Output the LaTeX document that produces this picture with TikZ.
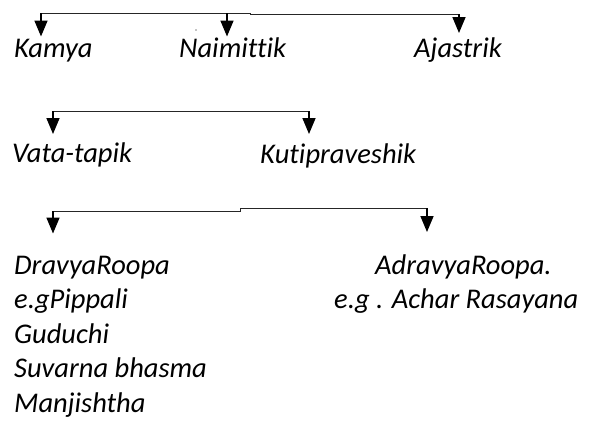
\documentclass[tikz,border=0pt]{standalone}
\usepackage{fontspec}
\setmainfont{Carlito}[Ligatures=NoCommon]
\usetikzlibrary{arrows.meta,calc}
\begin{document}
\begin{tikzpicture}[x=1pt,y=-1pt,
  lbl/.style={anchor=base west,inner sep=0pt,font=\fontsize{28.5}{34.5}\selectfont\itshape},
  bar/.style={line width=1pt,black!85},
  arr/.style={line width=1.6pt,-{Triangle[width=13pt,length=16pt]}}]
\useasboundingbox (0,0) rectangle (606,423);
% row 1
\node[lbl] (kamya) at (14,57) {Kamya};
\node[lbl] (naim) at (179,57) {Naimittik};
\node[lbl] (ajas) at (414,57) {Ajastrik};
\coordinate (a1) at (41,13);
\coordinate (a2) at (227,13);
\coordinate (a3) at (459,14);
\draw[bar] (a1) -- (250,13) -- (250,14) -- (a3);
\draw[arr] (a1) -- ($(a1 |- kamya.north)+(0,-2)$);
\draw[arr] (a2) -- ($(a2 |- kamya.north)+(0,-2)$);
\draw[arr] (a3) -- ($(a3 |- ajas.north)+(0,-4)$);
\fill (196,30) circle (0.7);
% row 2
\node[lbl] (vata) at (12,162) {Vata-tapik};
\node[lbl] (kuti) at (260,163) {Kutipraveshik};
\coordinate (b1) at (53,111);
\coordinate (b2) at (309,111);
\draw[bar] (b1) -- (b2);
\draw[arr] (b1) -- ($(b1 |- vata.north)+(0,-8)$);
\draw[arr] (b2) -- ($(b2 |- vata.north)+(0,-8)$);
% row 3
\node[lbl] (dravya) at (14,274) {DravyaRoopa};
\node[lbl] (pipp) at (14,308) {e.gPippali};
\node[lbl] (gudu) at (14,343) {Guduchi};
\node[lbl] (suva) at (14,377) {Suvarna bhasma};
\node[lbl] (manj) at (14,412) {Manjishtha};
\node[lbl] (adravya) at (375,274) {AdravyaRoopa.};
\node[lbl] (eg) at (334,308) {e.g . Achar Rasayana};
\coordinate (c1) at (53,211);
\coordinate (c2) at (427,208);
\draw[bar] (c1) -- (240,211) -- (240,208) -- (c2);
\draw[arr] (c1) -- ($(c1 |- dravya.north)+(0,-22)$);
\draw[arr] (c2) -- ($(c2 |- adravya.north)+(0,-22)$);
\end{tikzpicture}
\end{document}
